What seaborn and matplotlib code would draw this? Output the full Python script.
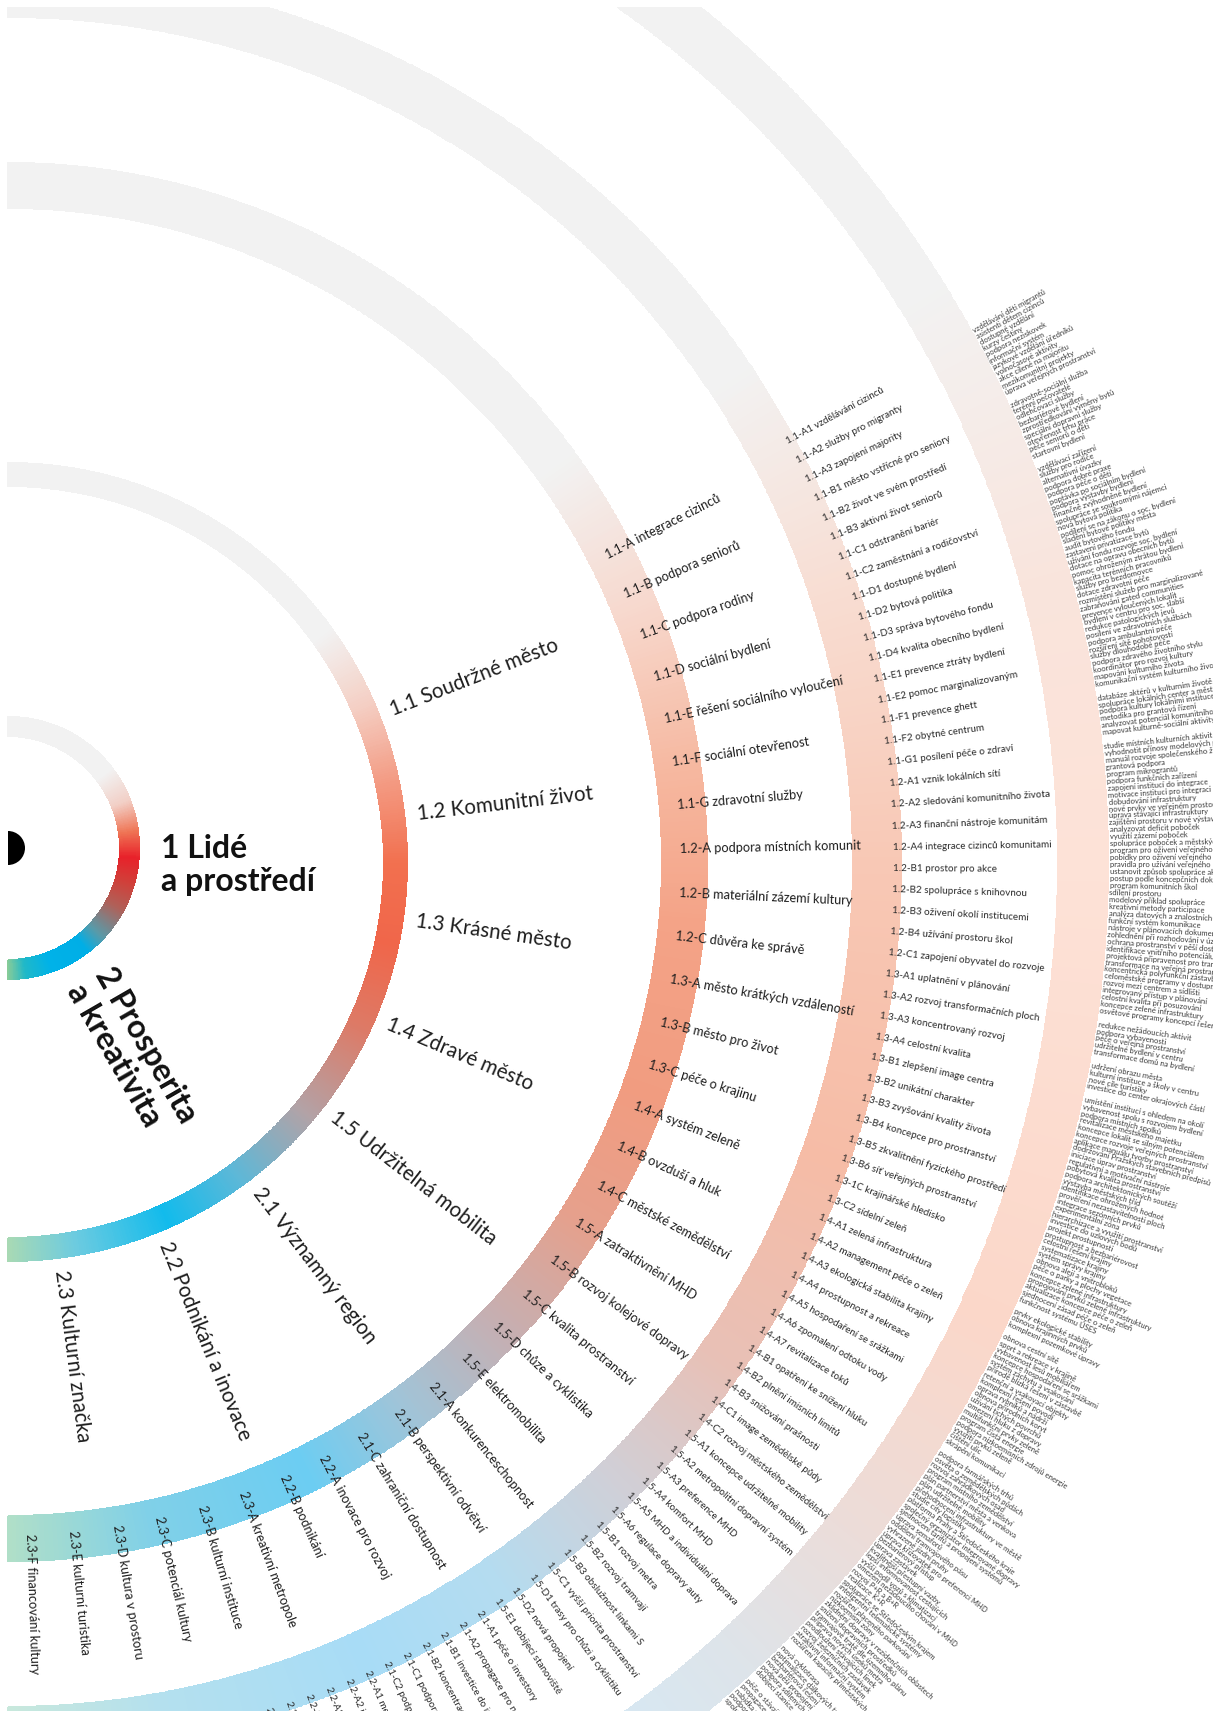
import numpy as np
import matplotlib
matplotlib.use("Agg")
import matplotlib.pyplot as plt
import seaborn as sns
from matplotlib.colors import LinearSegmentedColormap, Normalize
from matplotlib.patches import Wedge

# ---------------- data ----------------
ring1_labels = ["1 Lidé\na prostředí", "2 Prosperita\na kreativita"]

ring2_labels = ["1.1 Soudržné město", "1.2 Komunitní život", "1.3 Krásné město",
                "1.4 Zdravé město", "1.5 Udržitelná mobilita", "2.1 Významný region",
                "2.2 Podnikání a inovace", "2.3 Kulturní značka"]

ring3_labels = ["1.1-A integrace cizinců", "1.1-B podpora seniorů", "1.1-C podpora rodiny",
                "1.1-D sociální bydlení", "1.1-E řešení sociálního vyloučení",
                "1.1-F sociální otevřenost", "1.1-G zdravotní služby",
                "1.2-A podpora místních komunit", "1.2-B materiální zázemí kultury",
                "1.2-C důvěra ke správě", "1.3-A město krátkých vzdáleností",
                "1.3-B město pro život", "1.3-C péče o krajinu", "1.4-A systém zeleně",
                "1.4-B ovzduší a hluk", "1.4-C městské zemědělství", "1.5-A zatraktivnění MHD",
                "1.5-B rozvoj kolejové dopravy", "1.5-C kvalita prostranství",
                "1.5-D chůze a cyklistika", "1.5-E elektromobilita", "2.1-A konkurenceschopnost",
                "2.1-B perspektivní odvětví", "2.1-C zahraniční dostupnost",
                "2.2-A inovace pro rozvoj", "2.2-B podnikání", "2.3-A kreativní metropole",
                "2.3-B kulturní instituce", "2.3-C potenciál kultury", "2.3-D kultura v prostoru",
                "2.3-E kulturní turistika", "2.3-F financování kultury"]

ring4_labels = ["1.1-A1 vzdělávání cizinců", "1.1-A2 služby pro migranty", "1.1-A3 zapojení majority",
                "1.1-B1 město vstřícné pro seniory", "1.1-B2 život ve svém prostředí",
                "1.1-B3 aktivní život seniorů", "1.1-C1 odstranění bariér",
                "1.1-C2 zaměstnání a rodičovství", "1.1-D1 dostupné bydlení", "1.1-D2 bytová politika",
                "1.1-D3 správa bytového fondu", "1.1-D4 kvalita obecního bydlení",
                "1.1-E1 prevence ztráty bydlení", "1.1-E2 pomoc marginalizovaným",
                "1.1-F1 prevence ghett", "1.1-F2 obytné centrum", "1.1-G1 posílení péče o zdraví",
                "1.2-A1 vznik lokálních sítí", "1.2-A2 sledování komunitního života",
                "1.2-A3 finanční nástroje komunitám", "1.2-A4 integrace cizinců komunitami",
                "1.2-B1 prostor pro akce", "1.2-B2 spolupráce s knihovnou",
                "1.2-B3 oživení okolí institucemi", "1.2-B4 užívání prostoru škol",
                "1.2-C1 zapojení obyvatel do rozvoje", "1.3-A1 uplatnění v plánování",
                "1.3-A2 rozvoj transformačních ploch", "1.3-A3 koncentrovaný rozvoj",
                "1.3-A4 celostní kvalita", "1.3-B1 zlepšení image centra", "1.3-B2 unikátní charakter",
                "1.3-B3 zvyšování kvality života", "1.3-B4 koncepce pro prostranství",
                "1.3-B5 zkvalitnění fyzického prostředí", "1.3-B6 síť veřejných prostranství",
                "1.3-1C krajinářské hledisko", "1.3-C2 sídelní zeleň", "1.4-A1 zelená infrastruktura",
                "1.4-A2 management péče o zeleň", "1.4-A3 ekologická stabilita krajiny",
                "1.4-A4 prostupnost a rekreace", "1.4-A5 hospodaření se srážkami",
                "1.4-A6 zpomalení odtoku vody", "1.4-A7 revitalizace toků",
                "1.4-B1 opatření ke snížení hluku", "1.4-B2 plnění imisních limitů",
                "1.4-B3 snižování prašnosti", "1.4-C1 image zemědělské půdy",
                "1.4-C2 rozvoj městského zemědělství", "1.5-A1 koncepce udržitelné mobility",
                "1.5-A2 metropolitní dopravní systém", "1.5-A3 preference MHD", "1.5-A4 komfort MHD",
                "1.5-A5 MHD a individuální doprava", "1.5-A6 regulace dopravy auty",
                "1.5-B1 rozvoj metra", "1.5-B2 rozvoj tramvají", "1.5-B3 obslužnost linkami S",
                "1.5-C1 vyšší priorita prostranství", "1.5-D1 trasy pro chůzi a cyklistiku",
                "1.5-D2 nová propojení", "1.5-E1 dobíjecí stanoviště", "2.1-A1 péče o investory",
                "2.1-A2 propagace pro nové investory", "2.1-B1 investice do inovací",
                "2.1-B2 koncentrace výzkumu", "2.1-C1 podpora infrastruktury",
                "2.1-C2 podpora letiště", "2.2-A1 mezinárodní spolupráce",
                "2.2-A2 inovační prostředí", "2.2-A3 transfer technologií",
                "2.2-B1 podpora podnikání", "2.2-B2 startupy a malé firmy", "2.2-B3 trh práce",
                "2.3-A1 kreativní průmysly", "2.3-A2 kreativní centra",
                "2.3-B1 síť kulturních institucí", "2.3-B2 nové kulturní stavby",
                "2.3-C1 kulturní vzdělávání", "2.3-C2 dostupnost kultury",
                "2.3-D1 umění ve veřejném prostoru", "2.3-D2 kulturní akce v prostoru",
                "2.3-E1 kulturní turismus", "2.3-E2 propagace kultury",
                "2.3-F1 grantový systém", "2.3-F2 vícezdrojové financování"]

ring5_labels = [
    "vzdělávání dětí migrantů", "asistenti dětem cizinců", "dostupné vzdělání", "kurzy češtiny",
    "podpora neziskovek", "informační systém", "jazykové vzdělání úředníků",
    "volnočasové aktivity", "akce cílené na majoritu", "mezikomunitní projekty",
    "úprava veřejných prostranství", "",
    "zdravotně-sociální služba", "terénní pečovatelé", "odlehčovací služby",
    "bezbariérové bydlení", "zprostředkování výměny bytů", "speciální dopravní služby",
    "otevřenost trhu práce", "péče seniorů o děti", "startovní bydlení", "",
    "vzdělávací zařízení", "služby pro rodiče", "alternativní úvazky", "podpora dobré praxe",
    "podpora péče o děti", "poptávka po sociálním bydlení", "podpora výstavby bydlení",
    "finančně zvýhodněné bydlení", "spolupráce se soukromými nájemci", "nová bytová politika",
    "podílení se na zákonu o soc. bydlení", "sladění bytové politiky města",
    "audit bytového fondu", "zastavení privatizace bytů", "užívání fondu rozvoje soc. bydlení",
    "dotace na opravu obecních bytů", "pomoc ohroženým ztrátou bydlení",
    "kapacita terénních pracovníků", "služby pro bezdomovce", "dotace zdravotní péče",
    "rozmístění služeb pro marginalizované", "zabraňování gated communities",
    "prevence vyloučených lokalit", "bydlení v centru pro soc. slabší",
    "redukce patologických jevů", "posílení ve zdravotních službách",
    "podpora ambulantní péče", "rozšíření sítě pohotovostí", "služby dlouhodobé péče",
    "podpora zdravého životního stylu", "koordinátor pro rozvoj kultury",
    "mapování kulturního života", "komunikační systém kulturního života", "",
    "databáze aktérů v kulturním životě", "spolupráce lokálních center a města",
    "podpora kultury lokálními institucemi", "metodika pro grantová řízení",
    "analyzovat potenciál komunitního života", "mapovat kulturně-sociální aktivity", "",
    "studie místních kulturních aktivit", "vyhodnotit přínosy modelových projektů",
    "manuál rozvoje společenského života", "grantová podpora", "program mikrograntů",
    "podpora funkčních zařízení", "zapojení institucí do integrace",
    "motivace institucí pro integraci", "dobudování infrastruktury",
    "nové prvky ve veřejném prostoru", "úprava stávající infrastruktury",
    "zajištění prostoru v nové výstavbě", "analyzovat deficit poboček",
    "využití zázemí poboček", "spolupráce poboček a městských institucí",
    "program pro oživení veřejného prostoru", "pobídky pro oživení veřejného prostoru",
    "pravidla pro užívání veřejného prostoru", "ustanovit způsob spolupráce aktérů",
    "postup podle koncepčních dokumentů", "program komunitních škol", "sdílení prostoru",
    "modelový příklad spolupráce", "kreativní metody participace",
    "analýza datových a znalostních podkladů", "funkční systém komunikace",
    "nástroje v plánovacích dokumentech", "zohlednění při rozhodování v území",
    "ochrana prostranství v pěší dostupnosti", "identifikace vnitřního potenciálu",
    "projektová připravenost pro transformaci", "transformace na veřejná prostranství",
    "koncentrická polyfunkční zástavba", "celoměstské programy v dostupnosti",
    "rozvoj mezi centrem a sídlišti", "integrovaný přístup v plánování",
    "celostní kvalita při posuzování", "koncepce zelené infrastruktury",
    "osvětové programy koncepcí řešení", "",
    "redukce nežádoucích aktivit", "podpora vybavenosti", "péče o veřejná prostranství",
    "udržitelné bydlení v centru", "transformace domů na bydlení", "",
    "udržení obrazu města", "kulturní instituce a školy v centru", "nové cíle turistiky",
    "investice do center okrajových částí", "",
    "umístění institucí s ohledem na okolí", "vybavenost spolu s rozvojem bydlení",
    "podpora místních spolků", "revitalizace městského majetku",
    "koncepce lokalit se silným potenciálem", "koncepce rozvoje veřejných prostranství",
    "aplikace manuálu tvorby prostranství", "dodržování Pražských stavebních předpisů",
    "iniciace úprav prostranství", "regulativní a motivační nástroje",
    "pobytová kvalita prostranství", "podpora architektonických soutěží",
    "výstavba městských tříd", "identifikace ohrožených hodnot",
    "prověření nezastavitelnosti ploch", "integrace sezónních prvků", "experimentální zóna",
    "hierarchizace a využití prostranství", "investice do uzlových bodů",
    "projekt prostupnosti", "prostupnost a bezbariérovost", "celostní řešení krajiny",
    "systematizace krajiny", "systém správy krajiny", "obnova alejí a vnitrobloků",
    "péče o parky a plochy vegetace", "koncepce zelené infrastruktury",
    "propojování prvků zelené infrastruktury", "aktualizace koncepce péče o zeleň",
    "sjednocení zásad péče o zeleň", "funkčnost systému ÚSES", "",
    "prvky ekologické stability", "obnova krajinných prvků", "komplexní pozemkové úpravy", "",
    "obnova cestní sítě", "sport a rekreace v krajině", "vybavenost lesů mobiliářem",
    "koncepce hospodaření se srážkami", "systém záchytu a vsakování",
    "přírodě blízká řešení v zástavbě", "retenční a vsakovací objekty",
    "komplexní řešení povodí", "oprava rybníků a nádrží", "obnova přírodních koryt",
    "užívání tichých povrchů", "omezení hluku z dopravy", "multifunkční prvky zeleně",
    "program čistá energie", "podpora nízkoemisních zdrojů energie", "využití prvků zeleně",
    "čištění ulic", "skrápění komunikací", "",
    "podpora farmářských trhů", "osvěta o zemědělských půdách", "rozvoj zahrádkových osad",
    "program místního zemědělství", "plán partnerství města a venkova",
    "plán udržitelné mobility", "přehodnocení infrastruktury ve městě",
    "studie city logistiky", "platforma Prahy a Středočeského kraje",
    "společný organizátor integrované dopravy", "sjednocení tarifů a propojení systémů",
    "úprava semaforů", "oddělení tramvajového pásu", "vyhrazené jízdní pruhy",
    "úprava křižovatek pro preferenci MHD", "bezbariérový přístup", "úprava zastávek",
    "kvalitnější přestupní vazby", "lepší informovanost cestujících",
    "vyšší podíl vozů s klimatizací", "omezení nežádoucího chování v MHD",
    "rozvoj P+R a B+R", "realizace K+R", "spolupráce se Středočeským krajem",
    "inteligentní telematické systémy", "rozšíření placeného parkování",
    "nízkoemisní zóny", "zklidnění dopravy v rezidenčních oblastech",
    "snížení dopravních prostředků", "tramvajové tratě dle územního plánu",
    "příprava nových úseků metra", "prodloužení stávajících linek",
    "rozvoj železničních zastávek", "atraktivní informační systém",
    "rozšíření kapacity příměstských vlaků", "",
    "nová cyklotrasa", "optimalizace dálkových tras", "bezbariérová řešení",
    "nová pěší propojení", "podpora sdílených kol", "dobíjecí stanice", "",
    "péče o stávající investory", "propagace města v zahraničí", "nabídka ploch pro investory",
    "podpora výzkumných center", "spolupráce univerzit a firem",
]

# ---------------- style / layout ----------------
W, H = 1213, 1711
CX = 8
CY_INNER = 848                  # centre of the inner ring and black disc (pixels)
CY = 862                        # centre of the outer rings (pixels)
SPAN_TOP, SPAN_BOTTOM = 29.0, -90.0

sns.set_theme(style="white")
plt.rcParams["font.family"] = ["Lato", "DejaVu Sans"]

GRAY = "#f2f2f2"
ring_styles = [
    # (centre y, r_in, r_out, colour anchors: angle -> colour)
    (CY_INNER, 112, 131,
     [(-90, "#88cc98"), (-82, "#20b8c8"), (-70, "#00b2e8"), (-52, "#00aee6"),
      (-43, "#5a9aa8"), (-28, "#b06058"), (-16, "#d0403a"), (-4, "#e8212a"),
      (8, "#ef7555"), (22, "#f2cfc6"), (38, GRAY), (90, GRAY)]),
    (CY, 376, 399,
     [(-90, "#a8d9b4"), (-80, "#6ccbe0"), (-66, "#12bbec"), (-54, "#5cb8d8"),
      (-40, "#b3a2a6"), (-25, "#dd7a66"), (-12, "#f0664a"), (0, "#f2704f"),
      (12, "#f39a82"), (24, "#f4cfc4"), (36, GRAY), (90, GRAY)]),
    (CY, 654, 699,
     [(-90, "#b0dfc8"), (-78, "#80d0e8"), (-64, "#6ccdf2"), (-54, "#a0c4d8"),
      (-44, "#c4b0b4"), (-32, "#e6a08c"), (-20, "#f19c80"), (-5, "#f4a387"),
      (8, "#f6b8a0"), (22, "#f7d8cd"), (36, GRAY), (90, GRAY)]),
    (CY, 845, 893,
     [(-90, "#c8e8dc"), (-80, "#b4e0ee"), (-66, "#a8dcf6"), (-56, "#b4dcf0"),
      (-46, "#cfd0d8"), (-35, "#e8c0b6"), (-20, "#f6bca6"), (0, "#f8c8b5"),
      (18, "#f8ddd2"), (34, GRAY), (90, GRAY)]),
    (CY, 1050, 1100,
     [(-90, "#d8eef4"), (-58, "#d4eaf7"), (-48, "#dde4ea"), (-38, "#ecdcd8"),
      (-25, "#fbd7c9"), (0, "#fde2d7"), (15, "#f9e4dc"), (32, GRAY), (90, GRAY)]),
]


def make_cmap(anchors):
    pos = [(a + 90.0) / 180.0 for a, _ in anchors]
    cols = sns.color_palette([c for _, c in anchors])
    return LinearSegmentedColormap.from_list("ring", list(zip(pos, cols)), N=512)


fig = plt.figure(figsize=(W / 100, H / 100), dpi=100)
ax = fig.add_axes([4 / W, 0, (W - 4) / W, (H - 7) / H])
ax.set_xlim(4, W)
ax.set_ylim(H, 7)
ax.axis("off")

theta = np.linspace(-90, 90, 1441)
for cy, r0, r1, anchors in ring_styles:
    T, R = np.meshgrid(np.radians(theta), np.array([r0, r1]))
    X = CX + R * np.cos(T)
    Y = cy - R * np.sin(T)
    C = ((theta[:-1] + theta[1:]) / 2)[None, :]
    ax.pcolormesh(X, Y, C, cmap=make_cmap(anchors), norm=Normalize(-90, 90),
                  shading="flat", edgecolors="face", linewidth=0.2)

# black half disc in the centre
ax.add_patch(Wedge((CX, CY_INNER), 17, -90, 90, color="black", lw=0))


def polar_xy(r, ang, cy=CY):
    a = np.radians(ang)
    return CX + r * np.cos(a), cy - r * np.sin(a)


def ring_text(labels, step, r, size, color):
    for i, lab in enumerate(labels):
        if not lab:
            continue
        ang = SPAN_TOP - step * (i + 0.5)
        x, y = polar_xy(r, ang)
        ax.text(x, y, lab, rotation=ang, rotation_mode="anchor", ha="left", va="center",
                fontsize=size, color=color)


# ring 1 labels
x, y = polar_xy(154, -6.3, CY_INNER)
ax.text(x, y, ring1_labels[0], ha="left", va="center", fontsize=23, fontweight="bold",
        color="#111111", linespacing=1.15)
x, y = polar_xy(153, -58.4, CY_INNER)
ax.text(x, y, ring1_labels[1], ha="left", va="center", rotation=-60, rotation_mode="anchor",
        fontsize=23, fontweight="bold", color="#111111", linespacing=1.15)

span = SPAN_TOP - SPAN_BOTTOM
ring_text(ring2_labels, span / len(ring2_labels), 412, 14.8, "#1e1e1e")
ring_text(ring3_labels, span / len(ring3_labels), 672, 9.2, "#1e1e1e")
ring_text(ring4_labels, span / len(ring4_labels), 885, 7.1, "#2a2a2a")
ring_text(ring5_labels, 0.362, 1102, 5.5, "#3a3a3a")

fig.savefig("out.png", dpi=100, facecolor="white")
